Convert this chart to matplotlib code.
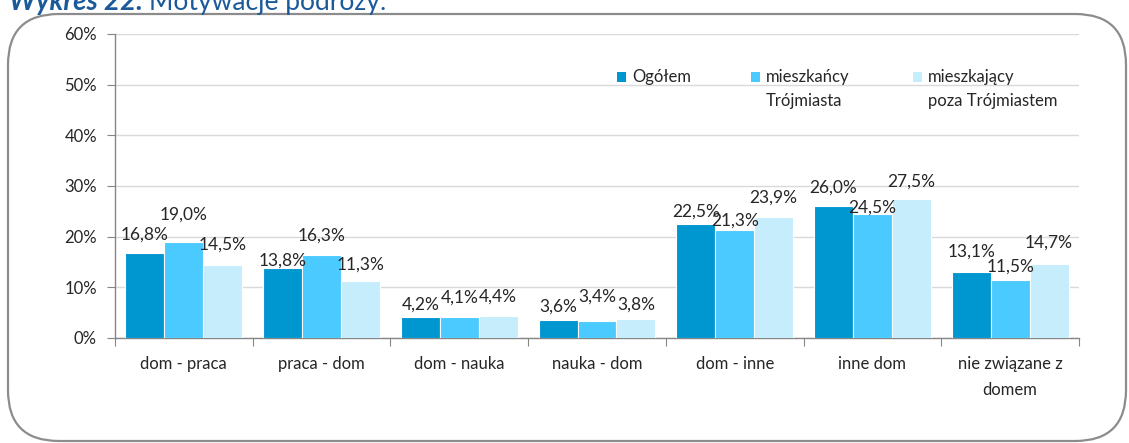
import matplotlib
matplotlib.use("Agg")
import matplotlib.pyplot as plt
from matplotlib.patches import FancyBboxPatch, Rectangle
import numpy as np

categories = ["dom - praca", "praca - dom", "dom - nauka", "nauka - dom",
              "dom - inne", "inne dom", "nie związane z\ndomem"]
series_names = ["Ogółem", "mieszkańcy\nTrójmiasta", "mieszkający\npoza Trójmiastem"]
ogolem = [16.8, 13.8, 4.2, 3.6, 22.5, 26.0, 13.1]
mieszkancy = [19.0, 16.3, 4.1, 3.4, 21.3, 24.5, 11.5]
poza = [14.5, 11.3, 4.4, 3.8, 23.9, 27.5, 14.7]
y_ticks = [0, 10, 20, 30, 40, 50, 60]

# label gap above bar in pixels (as placed in the original)
label_gap_px = [
    [13, 2, 7, 8, 7, 14, 15],
    [22, 15, 15, 19, 4, 1, 8],
    [15, 11, 14, 9, 14, 12, 16],
]

colors = ["#0096D0", "#4BCAFF", "#C5EDFC"]
text_col = "#262626"
FONT = ["Lato", "DejaVu Sans"]
plt.rcParams["font.family"] = FONT
FS = 12

W, H = 1129, 443
fig = plt.figure(figsize=(W / 100, H / 100), dpi=100)

# rounded frame
frame = FancyBboxPatch((8 / W, 2 / H), (1126 - 8) / W, (429 - 2) / H,
                       boxstyle="round,pad=0,rounding_size=0.045",
                       transform=fig.transFigure, facecolor="white",
                       edgecolor="#8C8C8C", linewidth=1.6, mutation_aspect=W / H)
fig.patches.append(frame)

# clipped title
fig.text(143 / W, 1 - 10 / H, "Wykres 22.", fontsize=20, fontweight="bold",
         fontstyle="italic", color="#1B5A9A", ha="right", va="baseline")
fig.text(149 / W, 1 - 10 / H, "Motywacje podróży:", fontsize=19,
         color="#1B5A9A", ha="left", va="baseline")

ax = fig.add_axes([115 / W, 1 - 338 / H, (1079 - 115) / W, (338 - 34) / H])
ax.set_zorder(2)
ax.patch.set_alpha(0)

x = np.arange(len(categories))
bw = 0.283
series = [ogolem, mieszkancy, poza]
for i, vals in enumerate(series):
    pos = x + (i - 1) * bw
    ax.bar(pos, vals, width=bw, color=colors[i], edgecolor="white",
           linewidth=0.8, zorder=3)
    for j, (p, v) in enumerate(zip(pos, vals)):
        ax.annotate(f"{v:.1f}%".replace(".", ","), (p, v),
                    xytext=(0, label_gap_px[i][j] * 0.72), textcoords="offset points",
                    ha="center", va="baseline", fontsize=12.5, color=text_col, zorder=5)

ax.set_xlim(-0.5, len(categories) - 0.5)
ax.set_ylim(0, 60)
ax.set_yticks(y_ticks)
ax.set_yticklabels([f"{t}%" for t in y_ticks], fontsize=FS, color=text_col)
ax.yaxis.grid(True, color="#D9D9D9", linewidth=1.0, zorder=0)
ax.set_axisbelow(True)

ax.set_xticks(np.arange(-0.5, len(categories) + 0.5, 1))
ax.set_xticklabels([])
ax.set_xticks(x, minor=True)
ax.set_xticklabels(categories, minor=True, fontsize=FS, color=text_col,
                   linespacing=1.8, va="top")
ax.tick_params(axis="x", which="major", length=6, color="#868686", direction="out")
ax.tick_params(axis="x", which="minor", length=0, pad=13)
ax.tick_params(axis="y", length=6, color="#868686", pad=7)

for s in ["top", "right"]:
    ax.spines[s].set_visible(False)
for s in ["left", "bottom"]:
    ax.spines[s].set_color("#868686")
    ax.spines[s].set_linewidth(1.0)

# legend (manual)
leg_x = [617, 751, 913]
for i, name in enumerate(series_names):
    fig.patches.append(Rectangle((leg_x[i] / W, 1 - 82 / H), 9 / W, 10 / H,
                                 transform=fig.transFigure, facecolor=colors[i],
                                 edgecolor="none", zorder=5))
    for k, line in enumerate(name.split("\n")):
        fig.text((leg_x[i] + 15) / W, 1 - (82 + 24 * k) / H, line, fontsize=FS,
                 color=text_col, ha="left", va="baseline", zorder=6)

fig.savefig("out.png", dpi=100)
